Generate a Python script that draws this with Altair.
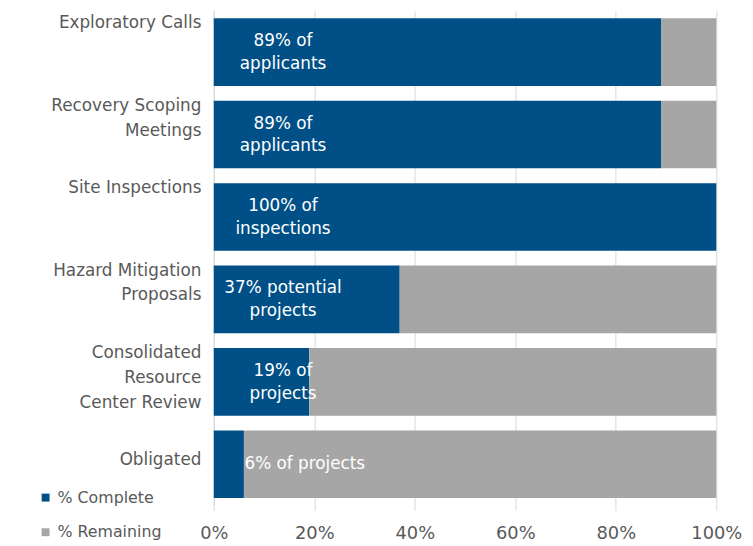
import altair as alt
import pandas as pd

categories = [
    "Exploratory Calls",
    "Recovery Scoping Meetings",
    "Site Inspections",
    "Hazard Mitigation Proposals",
    "Consolidated Resource Center Review",
    "Obligated",
]
axis_lines = [
    ["Exploratory Calls"],
    ["Recovery Scoping", "Meetings"],
    ["Site Inspections"],
    ["Hazard Mitigation", "Proposals"],
    ["Consolidated", "Resource", "Center Review"],
    ["", "Obligated"],
]
complete = [89, 89, 100, 37, 19, 6]
remaining = [11, 11, 0, 63, 81, 94]
bar_labels = [
    "89% of\napplicants",
    "89% of\napplicants",
    "100% of\ninspections",
    "37% potential\nprojects",
    "19% of\nprojects",
    "6% of projects",
]
series = ["% Complete", "% Remaining"]
x_ticks = [0, 20, 40, 60, 80, 100]

BLUE = "#005087"
GRAY = "#a6a6a6"
TXT = "#595959"
GRID = "#d9d9d9"
FONT = "DejaVu Sans"

rows = []
for c, a, b in zip(categories, complete, remaining):
    rows.append({"category": c, "status": series[0], "value": a, "k": 0})
    rows.append({"category": c, "status": series[1], "value": b, "k": 1})
df = pd.DataFrame(rows)
lab_df = pd.DataFrame({"category": categories, "label": bar_labels})

# multi-line category labels
expr = "datum.label"
for c, lines in reversed(list(zip(categories, axis_lines))):
    arr = "[" + ",".join("'" + s + "'" for s in lines) + "]"
    expr = f"datum.label == '{c}' ? {arr} : ({expr})"

yscale = alt.Scale(domain=categories, paddingInner=0.18, paddingOuter=0.09)

bars = alt.Chart(df).mark_bar().encode(
    y=alt.Y("category:N", scale=yscale, title=None,
            axis=alt.Axis(labelExpr=expr, labelFontSize=17, labelColor=TXT,
                          labelFont=FONT, labelLineHeight=25, labelLimit=230,
                          labelPadding=13, labelOffset=-29, ticks=False,
                          domainColor=GRID, labelBaseline="middle")),
    x=alt.X("value:Q", stack="zero", scale=alt.Scale(domain=[0, 100], nice=False),
            title=None,
            axis=alt.Axis(values=x_ticks, labelExpr="datum.value + '%'",
                          labelFontSize=18, labelColor=TXT, labelFont=FONT,
                          labelFlush=False, gridColor=GRID, tickColor=GRID,
                          tickSize=5, domain=False, labelPadding=14)),
    color=alt.Color("status:N",
                    scale=alt.Scale(domain=series, range=[BLUE, GRAY]),
                    legend=alt.Legend(title=None, orient="none", legendX=-178,
                                      legendY=484, symbolType="square",
                                      symbolSize=64, labelFontSize=16,
                                      labelColor=TXT, labelFont=FONT,
                                      rowPadding=19, labelOffset=4,
                                      symbolStrokeWidth=0)),
    order=alt.Order("k:Q"),
)

two_line = alt.Chart(lab_df).transform_filter(
    "indexof(datum.label, '\\n') >= 0"
).mark_text(
    align="center", baseline="middle", dx=70, dy=-11, color="white",
    fontSize=17, font=FONT, lineBreak="\n", lineHeight=23,
).encode(
    y=alt.Y("category:N", scale=yscale),
    x=alt.datum(0),
    text="label:N",
)

one_line = alt.Chart(lab_df).transform_filter(
    "indexof(datum.label, '\\n') < 0"
).mark_text(
    align="center", baseline="middle", dx=92, color="white",
    fontSize=17, font=FONT,
).encode(
    y=alt.Y("category:N", scale=yscale),
    x=alt.datum(0),
    text="label:N",
)

chart = (bars + two_line + one_line).properties(
    width=508, height=500,
    autosize=alt.AutoSizeParams(type="none"),
    padding={"left": 208, "top": 0, "right": 29, "bottom": 38},
).configure_view(stroke=None)

chart.save("out.html", embed_options={"renderer": "svg", "actions": False})
